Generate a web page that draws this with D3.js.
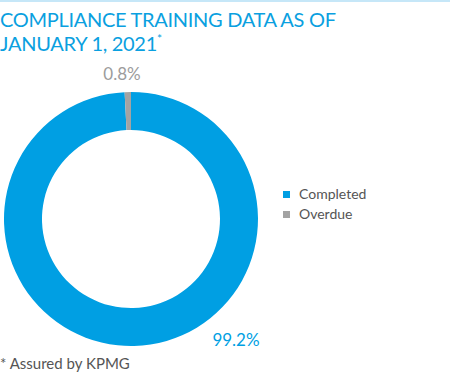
<!DOCTYPE html>
<html>
<head>
<meta charset="utf-8">
<script src="https://cdn.jsdelivr.net/npm/d3@7"></script>
<style>
  body { margin: 0; background: #fff; }
  svg { display: block; }
</style>
</head>
<body>
<div id="chart"></div>
<script>
var categories = ['Completed', 'Overdue'];
var values = [99.2, 0.8];
var valueLabels = ['99.2%', '0.8%'];

var width = 450,
    height = 374,
    cx = 131,
    cy = 219,
    outerR = 127,
    innerR = 89;

var colors = d3.scaleOrdinal()
      .domain(categories)
      .range(['#009fe3', '#a3a3a3']);

var svg = d3.select('#chart').append('svg')
  .attr('width', width)
  .attr('height', height)
  .style('font-family', 'Lato, "Open Sans", sans-serif');

// thin top rule
svg.append('rect')
  .attr('x', 0).attr('y', 0)
  .attr('width', width).attr('height', 2)
  .style('fill', '#c6e7f8');

var title = svg.append('text')
  .style('fill', '#0aa0e0')
  .style('font-size', '20px')
  .style('letter-spacing', '-0.3px');
title.append('tspan').attr('x', 0).attr('y', 27).text('COMPLIANCE TRAINING DATA AS OF');
title.append('tspan').attr('x', 0).attr('y', 51).text('JANUARY 1, 2021');
title.append('tspan').attr('dy', -8).style('font-size', '12px').text('*');

var pie = d3.pie().sort(null);
var arc = d3.arc().innerRadius(innerR).outerRadius(outerR);

svg.append('g')
  .attr('transform', 'translate(' + cx + ',' + cy + ')')
  .selectAll('path').data(pie(values))
  .enter().append('path')
    .attr('d', arc)
    .style('fill', function(d, i) { return colors(categories[i]); });

// value labels
svg.append('text')
  .attr('x', 236).attr('y', 346)
  .attr('text-anchor', 'middle')
  .style('fill', '#009fe3')
  .style('font-size', '17px')
  .text(valueLabels[0]);

svg.append('text')
  .attr('x', 122).attr('y', 80)
  .attr('text-anchor', 'middle')
  .style('fill', '#9c9c9c')
  .style('font-size', '17px')
  .text(valueLabels[1]);

// legend
var legend = svg.selectAll('.legend').data(categories)
  .enter().append('g')
    .attr('transform', function(d, i) { return 'translate(283,' + (191 + i * 20) + ')'; });

legend.append('rect')
  .attr('width', 7).attr('height', 7)
  .style('fill', function(d) { return colors(d); });

legend.append('text')
  .attr('x', 16).attr('y', 8)
  .style('fill', '#555')
  .style('font-size', '14px')
  .text(function(d) { return d; });

svg.append('text')
  .attr('x', 0).attr('y', 369)
  .style('fill', '#555')
  .style('font-size', '15px')
  .text('* Assured by KPMG');
</script>
</body>
</html>
